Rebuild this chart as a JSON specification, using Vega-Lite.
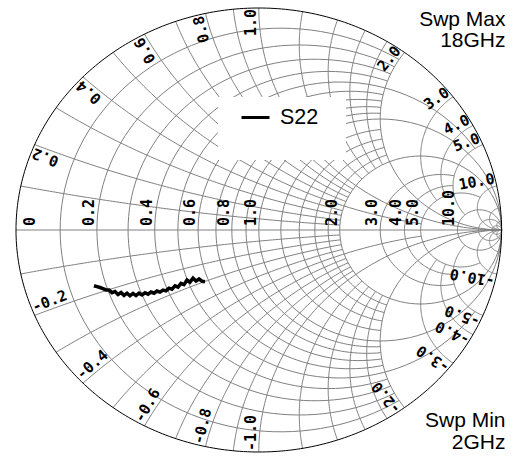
{
  "$schema": "https://vega.github.io/schema/vega-lite/v6.json",
  "width": 485.6,
  "height": 444,
  "autosize": "none",
  "padding": {"left": 16, "top": 8, "right": 13.4, "bottom": 7},
  "config": {"view": {"stroke": null}},
  "datasets": {
    "one": [{}],
    "grid": [
      {"f": "r", "v": 0, "a": -1e9, "b": 1e9},
      {"f": "r", "v": 0.1, "a": -2, "b": 2},
      {"f": "r", "v": 0.2, "a": -2, "b": 2},
      {"f": "r", "v": 0.3, "a": -2, "b": 2},
      {"f": "r", "v": 0.4, "a": -2, "b": 2},
      {"f": "r", "v": 0.5, "a": -5, "b": 5},
      {"f": "r", "v": 0.6, "a": -2, "b": 2},
      {"f": "r", "v": 0.7, "a": -2, "b": 2},
      {"f": "r", "v": 0.8, "a": -2, "b": 2},
      {"f": "r", "v": 0.9, "a": -2, "b": 2},
      {"f": "r", "v": 1, "a": -1e9, "b": 1e9},
      {"f": "r", "v": 1.2, "a": -2, "b": 2},
      {"f": "r", "v": 1.4, "a": -2, "b": 2},
      {"f": "r", "v": 1.6, "a": -2, "b": 2},
      {"f": "r", "v": 1.8, "a": -2, "b": 2},
      {"f": "r", "v": 2, "a": -1e9, "b": 1e9},
      {"f": "r", "v": 3, "a": -5, "b": 5},
      {"f": "r", "v": 4, "a": -5, "b": 5},
      {"f": "r", "v": 5, "a": -10, "b": 10},
      {"f": "r", "v": 10, "a": -1e9, "b": 1e9},
      {"f": "r", "v": 20, "a": -1e9, "b": 1e9},
      {"f": "r", "v": 50, "a": -1e9, "b": 1e9},
      {"f": "x", "v": 0.1, "a": 0, "b": 2},
      {"f": "x", "v": 0.2, "a": 0, "b": 2},
      {"f": "x", "v": 0.3, "a": 0, "b": 2},
      {"f": "x", "v": 0.4, "a": 0, "b": 2},
      {"f": "x", "v": 0.5, "a": 0, "b": 5},
      {"f": "x", "v": 0.6, "a": 0, "b": 2},
      {"f": "x", "v": 0.7, "a": 0, "b": 2},
      {"f": "x", "v": 0.8, "a": 0, "b": 2},
      {"f": "x", "v": 0.9, "a": 0, "b": 2},
      {"f": "x", "v": 1, "a": 0, "b": 1e9},
      {"f": "x", "v": 1.2, "a": 0, "b": 2},
      {"f": "x", "v": 1.4, "a": 0, "b": 2},
      {"f": "x", "v": 1.6, "a": 0, "b": 2},
      {"f": "x", "v": 1.8, "a": 0, "b": 2},
      {"f": "x", "v": 2, "a": 0, "b": 1e9},
      {"f": "x", "v": 3, "a": 0, "b": 5},
      {"f": "x", "v": 4, "a": 0, "b": 5},
      {"f": "x", "v": 5, "a": 0, "b": 10},
      {"f": "x", "v": 10, "a": 0, "b": 1e9},
      {"f": "x", "v": 20, "a": 0, "b": 1e9},
      {"f": "x", "v": 50, "a": 0, "b": 1e9},
      {"f": "x", "v": -0.1, "a": 0, "b": 2},
      {"f": "x", "v": -0.2, "a": 0, "b": 2},
      {"f": "x", "v": -0.3, "a": 0, "b": 2},
      {"f": "x", "v": -0.4, "a": 0, "b": 2},
      {"f": "x", "v": -0.5, "a": 0, "b": 5},
      {"f": "x", "v": -0.6, "a": 0, "b": 2},
      {"f": "x", "v": -0.7, "a": 0, "b": 2},
      {"f": "x", "v": -0.8, "a": 0, "b": 2},
      {"f": "x", "v": -0.9, "a": 0, "b": 2},
      {"f": "x", "v": -1, "a": 0, "b": 1e9},
      {"f": "x", "v": -1.2, "a": 0, "b": 2},
      {"f": "x", "v": -1.4, "a": 0, "b": 2},
      {"f": "x", "v": -1.6, "a": 0, "b": 2},
      {"f": "x", "v": -1.8, "a": 0, "b": 2},
      {"f": "x", "v": -2, "a": 0, "b": 1e9},
      {"f": "x", "v": -3, "a": 0, "b": 5},
      {"f": "x", "v": -4, "a": 0, "b": 5},
      {"f": "x", "v": -5, "a": 0, "b": 10},
      {"f": "x", "v": -10, "a": 0, "b": 1e9},
      {"f": "x", "v": -20, "a": 0, "b": 1e9},
      {"f": "x", "v": -50, "a": 0, "b": 1e9}
    ],
    "rlab": [
      {"t": "0.2", "v": 0.2}, {"t": "0.4", "v": 0.4}, {"t": "0.6", "v": 0.6},
      {"t": "0.8", "v": 0.8}, {"t": "1.0", "v": 1}, {"t": "2.0", "v": 2},
      {"t": "3.0", "v": 3}, {"t": "4.0", "v": 4}, {"t": "5.0", "v": 5},
      {"t": "10.0", "v": 10}
    ],
    "xlab": [
      {"t": "0.2", "v": 0.2}, {"t": "0.4", "v": 0.4}, {"t": "0.6", "v": 0.6},
      {"t": "0.8", "v": 0.8}, {"t": "1.0", "v": 1}, {"t": "2.0", "v": 2},
      {"t": "3.0", "v": 3}, {"t": "4.0", "v": 4}, {"t": "5.0", "v": 5},
      {"t": "10.0", "v": 10},
      {"t": "-0.2", "v": -0.2}, {"t": "-0.4", "v": -0.4}, {"t": "-0.6", "v": -0.6},
      {"t": "-0.8", "v": -0.8}, {"t": "-1.0", "v": -1}, {"t": "-2.0", "v": -2},
      {"t": "-3.0", "v": -3}, {"t": "-4.0", "v": -4}, {"t": "-5.0", "v": -5},
      {"t": "-10.0", "v": -10}
    ],
    "s22": [
      {"s": "S22", "i": 1, "re": -0.6788, "im": -0.2509},
      {"s": "S22", "i": 2, "re": -0.6664, "im": -0.2550},
      {"s": "S22", "i": 3, "re": -0.6540, "im": -0.2590},
      {"s": "S22", "i": 4, "re": -0.6417, "im": -0.2637},
      {"s": "S22", "i": 5, "re": -0.6293, "im": -0.2700},
      {"s": "S22", "i": 6, "re": -0.6170, "im": -0.2705},
      {"s": "S22", "i": 7, "re": -0.6046, "im": -0.2822},
      {"s": "S22", "i": 8, "re": -0.5923, "im": -0.2768},
      {"s": "S22", "i": 9, "re": -0.5799, "im": -0.2903},
      {"s": "S22", "i": 10, "re": -0.5675, "im": -0.2813},
      {"s": "S22", "i": 11, "re": -0.5552, "im": -0.2944},
      {"s": "S22", "i": 12, "re": -0.5428, "im": -0.2845},
      {"s": "S22", "i": 13, "re": -0.5305, "im": -0.2962},
      {"s": "S22", "i": 14, "re": -0.5181, "im": -0.2854},
      {"s": "S22", "i": 15, "re": -0.5058, "im": -0.2953},
      {"s": "S22", "i": 16, "re": -0.4934, "im": -0.2845},
      {"s": "S22", "i": 17, "re": -0.4811, "im": -0.2926},
      {"s": "S22", "i": 18, "re": -0.4687, "im": -0.2827},
      {"s": "S22", "i": 19, "re": -0.4563, "im": -0.2890},
      {"s": "S22", "i": 20, "re": -0.4440, "im": -0.2795},
      {"s": "S22", "i": 21, "re": -0.4316, "im": -0.2849},
      {"s": "S22", "i": 22, "re": -0.4193, "im": -0.2750},
      {"s": "S22", "i": 23, "re": -0.4069, "im": -0.2800},
      {"s": "S22", "i": 24, "re": -0.3946, "im": -0.2705},
      {"s": "S22", "i": 25, "re": -0.3822, "im": -0.2741},
      {"s": "S22", "i": 26, "re": -0.3699, "im": -0.2619},
      {"s": "S22", "i": 27, "re": -0.3575, "im": -0.2664},
      {"s": "S22", "i": 28, "re": -0.3451, "im": -0.2516},
      {"s": "S22", "i": 29, "re": -0.3328, "im": -0.2570},
      {"s": "S22", "i": 30, "re": -0.3204, "im": -0.2403},
      {"s": "S22", "i": 31, "re": -0.3081, "im": -0.2462},
      {"s": "S22", "i": 32, "re": -0.2957, "im": -0.2255},
      {"s": "S22", "i": 33, "re": -0.2834, "im": -0.2349},
      {"s": "S22", "i": 34, "re": -0.2710, "im": -0.2169},
      {"s": "S22", "i": 35, "re": -0.2586, "im": -0.2300},
      {"s": "S22", "i": 36, "re": -0.2463, "im": -0.2205},
      {"s": "S22", "i": 37, "re": -0.2339, "im": -0.2309},
      {"s": "S22", "i": 38, "re": -0.2216, "im": -0.2329}
    ]
  },
  "layer": [
    {
      "data": {"name": "grid"},
      "transform": [
        {"window": [{"op": "row_number", "as": "id"}]},
        {"filter": "!(datum.f == 'r' && datum.v == 0)"},
        {"calculate": "sequence(0, 1.0001, 0.01)", "as": "ts"},
        {"flatten": ["ts"], "as": ["t"]},
        {"calculate": "datum.f == 'r' ? atan(datum.a / (1 + datum.v)) : atan((1 + datum.a) / datum.v)", "as": "p0"},
        {"calculate": "datum.f == 'r' ? atan(datum.b / (1 + datum.v)) : atan((1 + datum.b) / datum.v)", "as": "p1"},
        {"calculate": "datum.p0 + (datum.p1 - datum.p0) * datum.t", "as": "p"},
        {"calculate": "datum.f == 'r' ? datum.v : datum.v * tan(datum.p) - 1", "as": "R"},
        {"calculate": "datum.f == 'r' ? (1 + datum.v) * tan(datum.p) : datum.v", "as": "X"},
        {"calculate": "(datum.R + 1) * (datum.R + 1) + datum.X * datum.X", "as": "den"},
        {"calculate": "(datum.R * datum.R + datum.X * datum.X - 1) / datum.den", "as": "gr"},
        {"calculate": "2 * datum.X / datum.den", "as": "gi"}
      ],
      "mark": {"type": "line", "color": "#808080", "strokeWidth": 1},
      "encoding": {
        "x": {"field": "gr", "type": "quantitative", "scale": {"domain": [-1, 1], "nice": false}, "axis": null},
        "y": {"field": "gi", "type": "quantitative", "scale": {"domain": [-1, 1], "nice": false}, "axis": null},
        "detail": {"field": "id"},
        "order": {"field": "t"}
      }
    },
    {
      "data": {"name": "one"},
      "mark": {"type": "rule", "color": "#808080", "strokeWidth": 1},
      "encoding": {
        "x": {"datum": -1, "type": "quantitative"},
        "x2": {"datum": 1},
        "y": {"datum": 0, "type": "quantitative"}
      }
    },
    {
      "data": {"name": "grid"},
      "transform": [
        {"filter": "datum.f == 'r' && datum.v == 0"},
        {"calculate": "sequence(0, 1.0001, 0.0025)", "as": "ts"},
        {"flatten": ["ts"], "as": ["t"]},
        {"calculate": "atan(datum.a) + (atan(datum.b) - atan(datum.a)) * datum.t", "as": "p"},
        {"calculate": "tan(datum.p)", "as": "X"},
        {"calculate": "(datum.X * datum.X - 1) / (1 + datum.X * datum.X)", "as": "gr"},
        {"calculate": "2 * datum.X / (1 + datum.X * datum.X)", "as": "gi"}
      ],
      "mark": {"type": "line", "color": "black", "strokeWidth": 1},
      "encoding": {
        "x": {"field": "gr", "type": "quantitative"},
        "y": {"field": "gi", "type": "quantitative"},
        "order": {"field": "t"}
      }
    },
    {
      "data": {"name": "one"},
      "mark": {"type": "rect", "fill": "white", "stroke": null},
      "encoding": {
        "x": {"datum": -0.168, "type": "quantitative"},
        "x2": {"datum": 0.359},
        "y": {"datum": 0.599, "type": "quantitative"},
        "y2": {"datum": 0.315}
      }
    },
    {
      "data": {"name": "s22"},
      "mark": {"type": "line", "strokeWidth": 3.5, "strokeJoin": "miter"},
      "encoding": {
        "x": {"field": "re", "type": "quantitative"},
        "y": {"field": "im", "type": "quantitative"},
        "order": {"field": "i"},
        "color": {
          "field": "s", "type": "nominal",
          "scale": {"range": ["black"]},
          "legend": {
            "orient": "none", "legendX": 224, "legendY": 94, "title": null,
            "padding": 0, "symbolType": "stroke", "symbolSize": 784,
            "symbolStrokeWidth": 3, "labelFontSize": 21.5, "labelFont": "Liberation Sans",
            "labelColor": "black", "labelOffset": 9
          }
        }
      }
    },
    {
      "data": {"name": "rlab"},
      "transform": [{"calculate": "(datum.v - 1) / (datum.v + 1)", "as": "gr"}],
      "mark": {"type": "text", "font": "DejaVu Sans Mono", "fontWeight": "bold", "fontSize": 15, "angle": 270, "align": "left", "baseline": "alphabetic", "dx": 4, "dy": -3, "color": "black"},
      "encoding": {
        "x": {"field": "gr", "type": "quantitative"},
        "y": {"datum": 0, "type": "quantitative"},
        "text": {"field": "t"}
      }
    },
    {
      "data": {"name": "one"},
      "mark": {"type": "text", "font": "DejaVu Sans Mono", "fontWeight": "bold", "fontSize": 15, "angle": 270, "align": "left", "baseline": "alphabetic", "dx": 4, "dy": 19, "color": "black", "text": "0"},
      "encoding": {
        "x": {"datum": -1, "type": "quantitative"},
        "y": {"datum": 0, "type": "quantitative"}
      }
    },
    {
      "data": {"name": "xlab"},
      "transform": [
        {"filter": "datum.v > 0"},
        {"calculate": "(datum.v * datum.v - 1) / (datum.v * datum.v + 1)", "as": "gr"},
        {"calculate": "2 * datum.v / (datum.v * datum.v + 1)", "as": "gi"},
        {"calculate": "-atan2(222 * datum.gi, 242.8 * datum.gr) * 180 / PI", "as": "ang"}
      ],
      "mark": {"type": "text", "font": "DejaVu Sans Mono", "fontWeight": "bold", "fontSize": 15, "align": "right", "baseline": "alphabetic", "dx": -1, "dy": -3, "color": "black"},
      "encoding": {
        "x": {"field": "gr", "type": "quantitative"},
        "y": {"field": "gi", "type": "quantitative"},
        "angle": {"field": "ang", "type": "quantitative", "scale": null},
        "text": {"field": "t"}
      }
    },
    {
      "data": {"name": "xlab"},
      "transform": [
        {"filter": "datum.v < 0"},
        {"calculate": "(datum.v * datum.v - 1) / (datum.v * datum.v + 1)", "as": "gr"},
        {"calculate": "2 * datum.v / (datum.v * datum.v + 1)", "as": "gi"},
        {"calculate": "-(atan2(222 * datum.gi, 242.8 * datum.gr) * 180 / PI + 180)", "as": "ang"}
      ],
      "mark": {"type": "text", "font": "DejaVu Sans Mono", "fontWeight": "bold", "fontSize": 15, "align": "left", "baseline": "alphabetic", "dx": 1, "dy": -3, "color": "black"},
      "encoding": {
        "x": {"field": "gr", "type": "quantitative"},
        "y": {"field": "gi", "type": "quantitative"},
        "angle": {"field": "ang", "type": "quantitative", "scale": null},
        "text": {"field": "t"}
      }
    },
    {
      "data": {"name": "one"},
      "mark": {"type": "text", "font": "Liberation Sans", "fontSize": 21, "align": "right", "baseline": "alphabetic", "color": "black", "text": "Swp Max"},
      "encoding": {"x": {"datum": 1.016, "type": "quantitative"}, "y": {"datum": 0.921, "type": "quantitative"}}
    },
    {
      "data": {"name": "one"},
      "mark": {"type": "text", "font": "Liberation Sans", "fontSize": 21, "align": "right", "baseline": "alphabetic", "color": "black", "text": "18GHz"},
      "encoding": {"x": {"datum": 1.016, "type": "quantitative"}, "y": {"datum": 0.824, "type": "quantitative"}}
    },
    {
      "data": {"name": "one"},
      "mark": {"type": "text", "font": "Liberation Sans", "fontSize": 21, "align": "right", "baseline": "alphabetic", "color": "black", "text": "Swp Min"},
      "encoding": {"x": {"datum": 1.016, "type": "quantitative"}, "y": {"datum": -0.886, "type": "quantitative"}}
    },
    {
      "data": {"name": "one"},
      "mark": {"type": "text", "font": "Liberation Sans", "fontSize": 21, "align": "right", "baseline": "alphabetic", "color": "black", "text": "2GHz"},
      "encoding": {"x": {"datum": 1.016, "type": "quantitative"}, "y": {"datum": -0.985, "type": "quantitative"}}
    }
  ]
}
